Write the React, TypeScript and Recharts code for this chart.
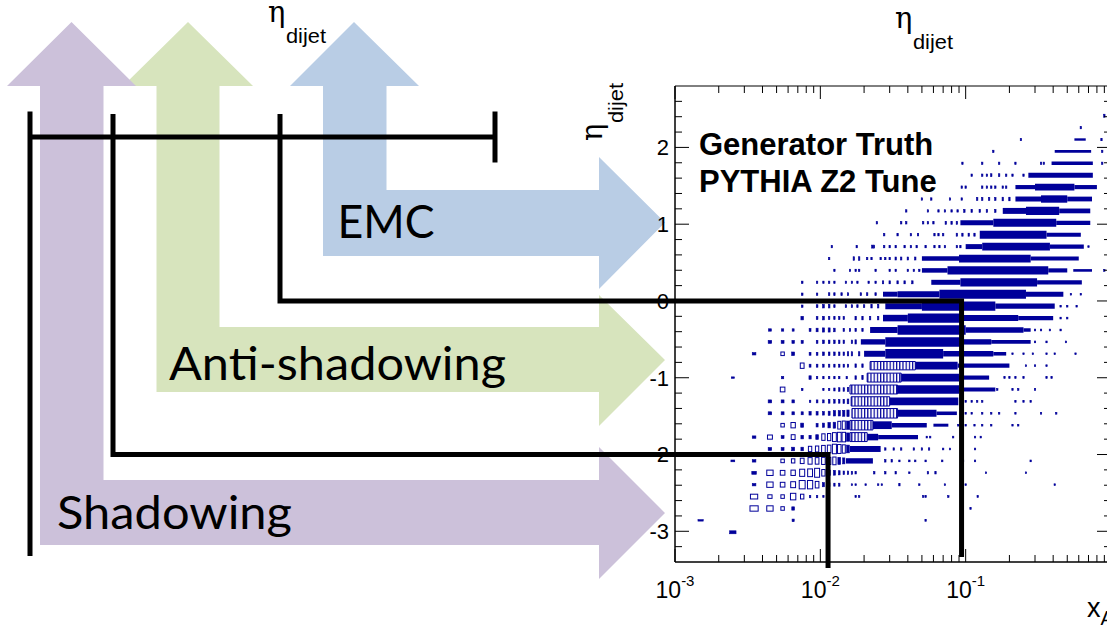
import { ScatterChart, Scatter, XAxis, YAxis, ReferenceArea } from "recharts";

const BLUE = "#00009a";
const PURPLE = "#ccc1da";
const GREEN = "#d7e4bd";
const SKY = "#b9cde5";

// plot frame inside the 1107x625 slide
const PLOT_LEFT = 675;
const PLOT_TOP = 86;
const PLOT_W = 436;
const PLOT_H = 476;
const DECADE = PLOT_W / 3;
const ROW_PX = PLOT_H / 40;
const HALF_BIN_ETA = 0.0775;
const HALF_BIN_X = 0.0005;

const X_MAJOR = [0.001, 0.01, 0.1];
const X_EXP = ["-3", "-2", "-1"];
const X_MINOR = [
  0.002, 0.003, 0.004, 0.005, 0.006, 0.007, 0.008, 0.009,
  0.02, 0.03, 0.04, 0.05, 0.06, 0.07, 0.08, 0.09,
  0.2, 0.3, 0.4, 0.5, 0.6, 0.7, 0.8, 0.9,
];
const Y_MAJOR = [-3, -2, -1, 0, 1, 2];
const Y_MINOR = [
  -3.2, -2.8, -2.6, -2.4, -2.2, -1.8, -1.6, -1.4, -1.2, -0.8, -0.6, -0.4, -0.2,
  0.2, 0.4, 0.6, 0.8, 1.2, 1.4, 1.6, 1.8, 2.2, 2.4, 2.6,
];

// eta_dijet bin centres (40 bins over -3.4 .. 2.8)
const ETA_BINS = [
  -3.323, -3.168, -3.013, -2.858, -2.703, -2.548, -2.393, -2.238, -2.083, -1.928,
  -1.773, -1.618, -1.463, -1.308, -1.153, -0.998, -0.843, -0.688, -0.533, -0.378,
  -0.223, -0.068, 0.088, 0.243, 0.398, 0.553, 0.708, 0.863, 1.018, 1.173,
  1.328, 1.483, 1.638, 1.793, 1.948, 2.103, 2.258, 2.413, 2.568, 2.723,
];

// single boxes per eta bin: [x, content / max]
const BOXES: number[][][] = [
  [],
  [],
  [[0.0025, 0.25]],
  [[0.0015, 0.12], [0.0065, 0.22], [0.053, 0.15]],
  [[0.0035, 0.45], [0.0045, 0.45], [0.0055, 0.3], [0.0065, 0.28], [0.108, 0.15]],
  [[0.0035, 0.4], [0.0045, 0.3], [0.0055, 0.3], [0.0065, 0.55], [0.0075, 0.4], [0.0085, 0.2], [0.0095, 0.2], [0.0105, 0.15], [0.0175, 0.15], [0.0185, 0.15], [0.051, 0.15], [0.053, 0.15], [0.076, 0.15], [0.121, 0.15]],
  [[0.0035, 0.2], [0.0045, 0.45], [0.0055, 0.4], [0.0065, 0.5], [0.0075, 0.7], [0.0085, 0.7], [0.0095, 0.55], [0.0105, 0.35], [0.0115, 0.3], [0.0125, 0.25], [0.0135, 0.25], [0.0165, 0.15], [0.0175, 0.15], [0.0205, 0.15], [0.025, 0.15], [0.0265, 0.15], [0.035, 0.2], [0.048, 0.15], [0.072, 0.15], [0.1, 0.15], [0.41, 0.15]],
  [[0.0035, 0.25], [0.0045, 0.45], [0.0055, 0.4], [0.0065, 0.45], [0.0075, 0.6], [0.0085, 0.65], [0.0095, 0.75], [0.0105, 0.55], [0.0115, 0.45], [0.0125, 0.4], [0.0135, 0.35], [0.0145, 0.3], [0.0155, 0.3], [0.0165, 0.25], [0.0175, 0.2], [0.0235, 0.2], [0.028, 0.2], [0.033, 0.2], [0.041, 0.15], [0.055, 0.2], [0.062, 0.2], [0.138, 0.15], [0.26, 0.15]],
  [[0.0025, 0.15], [0.0035, 0.2], [0.0055, 0.3], [0.0065, 0.35], [0.0075, 0.45], [0.0085, 0.55], [0.0095, 0.55], [0.0105, 0.6], [0.0115, 0.6], [0.0125, 0.65], [0.0135, 0.6], [0.0145, 0.5], [0.028, 0.2], [0.031, 0.2], [0.035, 0.15], [0.041, 0.15], [0.045, 0.15], [0.053, 0.15], [0.069, 0.15], [0.096, 0.15], [0.116, 0.15], [0.28, 0.15]],
  [[0.0045, 0.25], [0.0055, 0.25], [0.0065, 0.3], [0.0075, 0.3], [0.0085, 0.45], [0.0095, 0.5], [0.0105, 0.6], [0.0115, 0.65], [0.0125, 0.8], [0.0135, 0.75], [0.0145, 0.7], [0.0155, 0.65], [0.028, 0.2], [0.032, 0.2], [0.036, 0.2], [0.044, 0.2], [0.05, 0.2], [0.056, 0.2], [0.07, 0.15], [0.078, 0.15], [0.116, 0.15]],
  [[0.0035, 0.2], [0.0045, 0.35], [0.0055, 0.25], [0.0065, 0.4], [0.0075, 0.3], [0.0085, 0.3], [0.0095, 0.4], [0.0105, 0.55], [0.0115, 0.6], [0.0125, 0.75], [0.0135, 0.8], [0.0145, 0.8], [0.0155, 0.7], [0.054, 0.15], [0.057, 0.15], [0.082, 0.15], [0.116, 0.15], [0.127, 0.15]],
  [[0.0055, 0.3], [0.0065, 0.45], [0.0075, 0.35], [0.0095, 0.3], [0.0105, 0.35], [0.0115, 0.45], [0.0125, 0.5], [0.0135, 0.65], [0.0145, 0.7], [0.0155, 0.7], [0.089, 0.15], [0.1, 0.15], [0.115, 0.15], [0.13, 0.15], [0.15, 0.15], [0.21, 0.15], [0.23, 0.15]],
  [[0.0045, 0.25], [0.0055, 0.25], [0.0065, 0.25], [0.0075, 0.25], [0.0085, 0.3], [0.0095, 0.3], [0.0105, 0.3], [0.0115, 0.35], [0.0125, 0.45], [0.0135, 0.45], [0.0145, 0.5], [0.0155, 0.55], [0.1, 0.15], [0.11, 0.15], [0.13, 0.15], [0.15, 0.15], [0.17, 0.15], [0.22, 0.15], [0.33, 0.15], [0.42, 0.15]],
  [[0.0045, 0.25], [0.0055, 0.25], [0.0065, 0.25], [0.0085, 0.2], [0.0095, 0.25], [0.0105, 0.25], [0.0115, 0.3], [0.0125, 0.3], [0.0135, 0.3], [0.0145, 0.35], [0.0155, 0.4], [0.1, 0.15], [0.11, 0.15], [0.12, 0.15], [0.13, 0.15], [0.22, 0.15], [0.25, 0.15], [0.28, 0.15]],
  [[0.0055, 0.4], [0.0075, 0.2], [0.0105, 0.2], [0.0115, 0.2], [0.0125, 0.25], [0.0135, 0.3], [0.0145, 0.3], [0.0155, 0.35], [0.165, 0.15], [0.21, 0.15], [0.23, 0.15], [0.3, 0.15]],
  [[0.0025, 0.12], [0.0055, 0.2], [0.0085, 0.3], [0.0095, 0.2], [0.0105, 0.2], [0.0115, 0.2], [0.0125, 0.2], [0.0135, 0.2], [0.0152, 0.2], [0.0175, 0.3], [0.0195, 0.35], [0.185, 0.15], [0.2, 0.15], [0.22, 0.15], [0.25, 0.15], [0.36, 0.15], [0.39, 0.15]],
  [[0.0075, 0.45], [0.0085, 0.25], [0.0095, 0.25], [0.0105, 0.25], [0.0115, 0.25], [0.0125, 0.25], [0.0135, 0.25], [0.0145, 0.25], [0.0155, 0.25], [0.0175, 0.3], [0.0195, 0.3], [0.26, 0.15], [0.3, 0.15], [0.36, 0.15]],
  [[0.0035, 0.2], [0.0055, 0.3], [0.0065, 0.3], [0.0085, 0.25], [0.0095, 0.25], [0.0105, 0.3], [0.0115, 0.3], [0.0125, 0.3], [0.0135, 0.3], [0.0145, 0.3], [0.0155, 0.35], [0.0165, 0.35], [0.0185, 0.35], [0.21, 0.15], [0.25, 0.15], [0.29, 0.15], [0.36, 0.15], [0.41, 0.15], [0.57, 0.15]],
  [[0.0045, 0.25], [0.0055, 0.25], [0.0065, 0.25], [0.0075, 0.25], [0.0095, 0.25], [0.0105, 0.3], [0.0115, 0.3], [0.0125, 0.3], [0.0135, 0.3], [0.0145, 0.3], [0.0165, 0.3], [0.0175, 0.35], [0.3, 0.15], [0.36, 0.15], [0.49, 0.15]],
  [[0.0045, 0.2], [0.0055, 0.2], [0.0065, 0.2], [0.0085, 0.25], [0.0095, 0.3], [0.0105, 0.35], [0.0115, 0.35], [0.0125, 0.3], [0.0145, 0.25], [0.016, 0.25], [0.0175, 0.25], [0.0195, 0.25], [0.3, 0.15], [0.33, 0.15], [0.38, 0.15], [0.45, 0.15]],
  [[0.0075, 0.3], [0.0095, 0.25], [0.0105, 0.3], [0.0115, 0.25], [0.0125, 0.25], [0.0135, 0.25], [0.0145, 0.25], [0.0175, 0.3], [0.0195, 0.3], [0.022, 0.3], [0.025, 0.3], [0.45, 0.15], [0.5, 0.15]],
  [[0.0075, 0.2], [0.0095, 0.25], [0.0105, 0.3], [0.0115, 0.3], [0.0125, 0.25], [0.015, 0.25], [0.0165, 0.25], [0.018, 0.25], [0.02, 0.25], [0.0225, 0.3], [0.025, 0.3], [0.45, 0.15], [0.5, 0.15], [0.58, 0.15]],
  [[0.0075, 0.2], [0.0095, 0.2], [0.0115, 0.25], [0.0125, 0.25], [0.014, 0.25], [0.0155, 0.25], [0.019, 0.25], [0.021, 0.25], [0.024, 0.25], [0.53, 0.15], [0.62, 0.15]],
  [[0.0075, 0.2], [0.0095, 0.2], [0.0105, 0.2], [0.0115, 0.2], [0.0125, 0.2], [0.015, 0.2], [0.0165, 0.2], [0.018, 0.2], [0.0215, 0.2], [0.024, 0.2], [0.027, 0.25], [0.03, 0.25], [0.034, 0.25], [0.038, 0.25], [0.043, 0.25]],
  [[0.0125, 0.2], [0.016, 0.2], [0.0175, 0.2], [0.0185, 0.2], [0.024, 0.2], [0.03, 0.2], [0.033, 0.2], [0.04, 0.2], [0.044, 0.2], [0.048, 0.2], [0.9, 0.15]],
  [[0.0115, 0.2], [0.017, 0.3], [0.0185, 0.3], [0.021, 0.2], [0.0225, 0.2], [0.026, 0.2], [0.028, 0.2], [0.03, 0.2], [0.033, 0.25], [0.036, 0.25], [0.04, 0.25], [0.045, 0.25]],
  [[0.012, 0.2], [0.0178, 0.2], [0.0228, 0.25], [0.0234, 0.25], [0.0275, 0.2], [0.03, 0.2], [0.033, 0.2], [0.038, 0.2], [0.042, 0.2], [0.046, 0.2], [0.053, 0.2], [0.061, 0.2], [0.066, 0.2], [0.072, 0.2], [0.087, 0.2], [0.092, 0.2], [0.7, 0.15]],
  [[0.0275, 0.2], [0.034, 0.2], [0.042, 0.2], [0.047, 0.2], [0.061, 0.2], [0.065, 0.2], [0.07, 0.2], [0.087, 0.25], [0.095, 0.25], [0.105, 0.25], [0.115, 0.25]],
  [[0.0245, 0.2], [0.036, 0.2], [0.039, 0.2], [0.051, 0.2], [0.055, 0.2], [0.06, 0.2], [0.073, 0.25], [0.08, 0.25], [0.087, 0.25]],
  [[0.039, 0.2], [0.055, 0.2], [0.065, 0.2], [0.072, 0.2], [0.08, 0.2], [0.088, 0.2], [0.098, 0.25], [0.11, 0.25], [0.125, 0.25], [0.14, 0.25], [0.16, 0.25]],
  [[0.05, 0.2], [0.058, 0.2], [0.078, 0.2], [0.094, 0.2], [0.12, 0.25], [0.13, 0.25], [0.145, 0.25], [0.16, 0.25], [0.18, 0.3], [0.2, 0.3]],
  [[0.094, 0.2], [0.1, 0.2], [0.13, 0.2], [0.14, 0.2], [0.15, 0.2], [0.16, 0.2], [0.18, 0.2], [0.19, 0.2]],
  [[0.11, 0.2], [0.13, 0.2], [0.14, 0.2], [0.15, 0.25], [0.17, 0.25], [0.19, 0.2], [0.21, 0.2], [0.25, 0.2]],
  [[0.095, 0.2], [0.13, 0.2], [0.17, 0.2], [0.22, 0.2], [0.33, 0.2], [0.345, 0.2], [0.87, 0.2]],
  [[0.155, 0.2], [0.87, 0.2]],
  [[0.24, 0.2], [0.86, 0.2]],
  [[0.62, 0.2]],
  [[0.9, 0.25]],
  [],
  [],
];

// dense stretches of filled bins: [xFrom, xTo, content / max]
const RUNS: number[][][] = [
  [], [], [], [], [], [], [], [],
  [[0.015, 0.023, 0.45]],
  [[0.016, 0.026, 0.5]],
  [[0.021, 0.025, 0.55], [0.025, 0.047, 0.35]],
  [[0.023, 0.031, 0.65], [0.031, 0.054, 0.38], [0.06, 0.076, 0.25]],
  [[0.034, 0.063, 0.6], [0.063, 0.087, 0.3]],
  [[0.03, 0.089, 0.65]],
  [[0.034, 0.09, 0.7], [0.09, 0.16, 0.35]],
  [[0.036, 0.09, 0.65], [0.09, 0.145, 0.35]],
  [[0.045, 0.088, 0.65], [0.088, 0.2, 0.35]],
  [[0.02, 0.028, 0.5], [0.028, 0.07, 0.8], [0.07, 0.155, 0.45], [0.155, 0.19, 0.3]],
  [[0.019, 0.028, 0.45], [0.028, 0.092, 0.8], [0.092, 0.15, 0.45], [0.15, 0.28, 0.32]],
  [[0.022, 0.034, 0.5], [0.034, 0.1, 0.8], [0.1, 0.25, 0.48], [0.25, 0.28, 0.3]],
  [[0.027, 0.04, 0.55], [0.04, 0.092, 0.78], [0.092, 0.23, 0.5], [0.23, 0.4, 0.35]],
  [[0.028, 0.05, 0.5], [0.05, 0.16, 0.78], [0.16, 0.41, 0.45]],
  [[0.027, 0.034, 0.42], [0.034, 0.066, 0.5], [0.066, 0.26, 0.75], [0.26, 0.47, 0.42]],
  [[0.058, 0.092, 0.42], [0.092, 0.31, 0.7], [0.31, 0.63, 0.35]],
  [[0.05, 0.075, 0.38], [0.075, 0.37, 0.7], [0.37, 0.5, 0.35], [0.55, 0.74, 0.22]],
  [[0.05, 0.09, 0.38], [0.09, 0.28, 0.65], [0.28, 0.6, 0.35]],
  [[0.1, 0.13, 0.42], [0.13, 0.38, 0.65], [0.38, 0.65, 0.35]],
  [[0.125, 0.36, 0.68], [0.36, 0.62, 0.35]],
  [[0.092, 0.155, 0.42], [0.155, 0.42, 0.68], [0.42, 0.72, 0.35]],
  [[0.18, 0.26, 0.5], [0.26, 0.44, 0.68], [0.44, 0.72, 0.4]],
  [[0.22, 0.33, 0.42], [0.33, 0.5, 0.62], [0.5, 0.74, 0.4]],
  [[0.22, 0.3, 0.35], [0.3, 0.56, 0.55], [0.56, 0.8, 0.35]],
  [[0.27, 0.75, 0.42]],
  [[0.39, 0.75, 0.3]],
  [[0.41, 0.73, 0.22]],
  [[0.56, 0.67, 0.2]],
  [], [], [], [],
];

// stretches of large open boxes sitting side by side
const OPEN_RUNS: number[][][] = [
  [], [], [], [], [], [], [], [], [], [],
  [[0.016, 0.021, 0.75]],
  [[0.016, 0.023, 0.8]],
  [[0.0165, 0.034, 0.8]],
  [[0.0163, 0.03, 0.78]],
  [[0.016, 0.034, 0.75]],
  [[0.021, 0.036, 0.75]],
  [[0.022, 0.045, 0.7]],
];

// x boundaries of the shadowing / EMC regions and the eta cuts used by the brackets
const SHADOW_EDGE = 0.0113;
const EMC_EDGE = 0.0937;
const ETA_CUTS = [0, -2];

const boxPoints = BOXES.flatMap((row, k) =>
  row.map(([x, f]) => ({ x, eta: ETA_BINS[k], f }))
);

const xPx = (v: number) => PLOT_LEFT + DECADE * (Math.log10(v) + 3);
const yPx = (eta: number) => PLOT_TOP + (PLOT_H * (2.8 - eta)) / 6.2;

function BoxMark(props: any) {
  const { cx, cy, payload } = props;
  if (cx == null || cy == null) return null;
  const binPx = DECADE * Math.log10((payload.x + HALF_BIN_X) / (payload.x - HALF_BIN_X));
  const w = Math.max(payload.f * binPx, 1.4);
  const h = Math.max(payload.f * ROW_PX, 1.4);
  const small = w < 3 || h < 3;
  return (
    <rect
      x={cx - w / 2}
      y={cy - h / 2}
      width={w}
      height={h}
      fill={small ? BLUE : "none"}
      stroke={BLUE}
      strokeWidth={small ? 0.6 : 1}
    />
  );
}

function XTick(props: any) {
  const { x, y, payload } = props;
  const idx = X_MAJOR.indexOf(payload.value);
  const len = idx >= 0 ? 13 : 7;
  return (
    <g>
      <line x1={x} x2={x} y1={y} y2={y - len} stroke="#000" />
      <line x1={x} x2={x} y1={y - PLOT_H} y2={y - PLOT_H + len} stroke="#000" />
      {idx >= 0 && (
        <text x={x} y={y + 36} textAnchor="middle" fontSize={23} fontFamily="Liberation Sans, Arial" fill="#000">
          10<tspan dy={-12} fontSize={15}>{X_EXP[idx]}</tspan>
        </text>
      )}
    </g>
  );
}

function YTick(props: any) {
  const { x, y, payload } = props;
  const major = Y_MAJOR.includes(payload.value);
  const len = major ? 14 : 7;
  return (
    <g>
      <line x1={x} x2={x + len} y1={y} y2={y} stroke="#000" />
      <line x1={x + PLOT_W} x2={x + PLOT_W - len} y1={y} y2={y} stroke="#000" />
      {major && (
        <text x={x - 6} y={y} dy="0.36em" textAnchor="end" fontSize={22} fontFamily="Liberation Sans, Arial" fill="#000">
          {payload.value}
        </text>
      )}
    </g>
  );
}

const slideFont = "Lato, 'Open Sans', sans-serif";
const rootFont = "'Liberation Sans', Arial, sans-serif";
const greekFont = "'DejaVu Serif', serif";

// eta symbol with its "dijet" subscript, as ROOT prints #eta_{dijet}
function EtaDijet({ x, y, transform }: { x: number; y: number; transform?: string }) {
  return (
    <g transform={transform ?? `translate(${x},${y})`}>
      <text x={0} y={0} fontFamily={greekFont} fontSize={29} fill="#000">η</text>
      <text x={18} y={21} fontFamily={rootFont} fontSize={21} textLength={40} lengthAdjust="spacingAndGlyphs" fill="#000">dijet</text>
    </g>
  );
}

export default function App() {
  return (
    <div style={{ position: "absolute", left: 0, top: 0, width: 1107, height: 625, overflow: "hidden", background: "#fff" }}>
      {/* big coloured arrows behind the plot */}
      <svg width={1107} height={625} style={{ position: "absolute", left: 0, top: 0 }}>
        <defs>
          <pattern id="openBoxes" width={3.2} height={20} patternUnits="userSpaceOnUse">
            <rect x={0} y={0} width={1.2} height={20} fill={BLUE} />
          </pattern>
        </defs>
        <polygon
          fill={SKY}
          points="354,22 419,86 386.5,86 386.5,190 599,190 599,157 665,222.5 599,289 599,256 323,256 323,86 290,86"
        />
        <polygon
          fill={GREEN}
          points="188,22 253,86 219.5,86 219.5,327 599,327 599,295 665,360 599,426 599,392 156.5,392 156.5,86 123,86"
        />
        <polygon
          fill={PURPLE}
          points="71.5,22 136,86 103.5,86 103.5,480 599,480 599,447 665,513 599,579 599,545 40,545 40,86 7,86"
        />
      </svg>

      <div style={{ position: "absolute", left: 0, top: 0 }}>
        <ScatterChart width={1111} height={625} margin={{ top: PLOT_TOP, right: 0, bottom: 0, left: 0 }}>
          <XAxis
            type="number"
            dataKey="x"
            scale="log"
            domain={[0.001, 1]}
            allowDataOverflow
            ticks={[...X_MAJOR, ...X_MINOR]}
            interval={0}
            height={625 - PLOT_TOP - PLOT_H}
            tickSize={0}
            tickMargin={0}
            tickLine={false}
            tick={XTick}
            axisLine={{ stroke: "#000" }}
          />
          <YAxis
            type="number"
            dataKey="eta"
            domain={[-3.4, 2.8]}
            allowDataOverflow
            ticks={[...Y_MAJOR, ...Y_MINOR]}
            interval={0}
            width={PLOT_LEFT}
            tickSize={0}
            tickMargin={0}
            tickLine={false}
            tick={YTick}
            axisLine={{ stroke: "#000" }}
          />
          <ReferenceArea x1={0.001} x2={1} y1={-3.4} y2={2.8} fill="none" fillOpacity={0} stroke="#000" strokeWidth={1} />
          {RUNS.flatMap((row, k) =>
            row.map(([a, b, f], i) => (
              <ReferenceArea
                key={`run-${k}-${i}`}
                x1={a}
                x2={b}
                y1={ETA_BINS[k] - f * HALF_BIN_ETA}
                y2={ETA_BINS[k] + f * HALF_BIN_ETA}
                fill={BLUE}
                fillOpacity={1}
                stroke="none"
              />
            ))
          )}
          {OPEN_RUNS.flatMap((row, k) =>
            row.map(([a, b, f], i) => (
              <ReferenceArea
                key={`open-${k}-${i}`}
                x1={a}
                x2={b}
                y1={ETA_BINS[k] - f * HALF_BIN_ETA}
                y2={ETA_BINS[k] + f * HALF_BIN_ETA}
                fill="url(#openBoxes)"
                fillOpacity={1}
                stroke={BLUE}
                strokeWidth={1}
              />
            ))
          )}
          <Scatter data={boxPoints} shape={BoxMark} isAnimationActive={false} />
        </ScatterChart>
      </div>

      {/* brackets and labels on top */}
      <svg width={1107} height={625} style={{ position: "absolute", left: 0, top: 0, pointerEvents: "none" }}>
        <g stroke="#000" strokeWidth={5} fill="none">
          <path d="M30 137 H495" />
          <path d="M495 111.5 V162.5" />
          <path d="M30 111.5 V556" />
          <path d={`M113 114 V${yPx(ETA_CUTS[1])} H${xPx(SHADOW_EDGE)} V568`} />
          <path d={`M280 114 V${yPx(ETA_CUTS[0])} H${xPx(EMC_EDGE)} V557`} />
        </g>

        <text x={337.5} y={238} fontFamily={slideFont} fontSize={47} textLength={97} lengthAdjust="spacingAndGlyphs" fill="#000">EMC</text>
        <text x={169} y={380} fontFamily={slideFont} fontSize={47} textLength={337} lengthAdjust="spacingAndGlyphs" fill="#000">Anti-shadowing</text>
        <text x={57} y={529} fontFamily={slideFont} fontSize={47} textLength={235} lengthAdjust="spacingAndGlyphs" fill="#000">Shadowing</text>

        <EtaDijet x={268} y={22} />
        <EtaDijet x={895} y={28} />
        <EtaDijet x={0} y={0} transform="translate(602,141) rotate(-90)" />

        <text x={699} y={155} fontFamily={rootFont} fontWeight="bold" fontSize={31} fill="#000">Generator Truth</text>
        <text x={699} y={192} fontFamily={rootFont} fontWeight="bold" fontSize={31} fill="#000">PYTHIA Z2 Tune</text>

        <text x={1087} y={617} fontFamily={rootFont} fontSize={27} fill="#000">
          x<tspan dy={8} fontSize={20}>A</tspan>
        </text>
      </svg>
    </div>
  );
}
